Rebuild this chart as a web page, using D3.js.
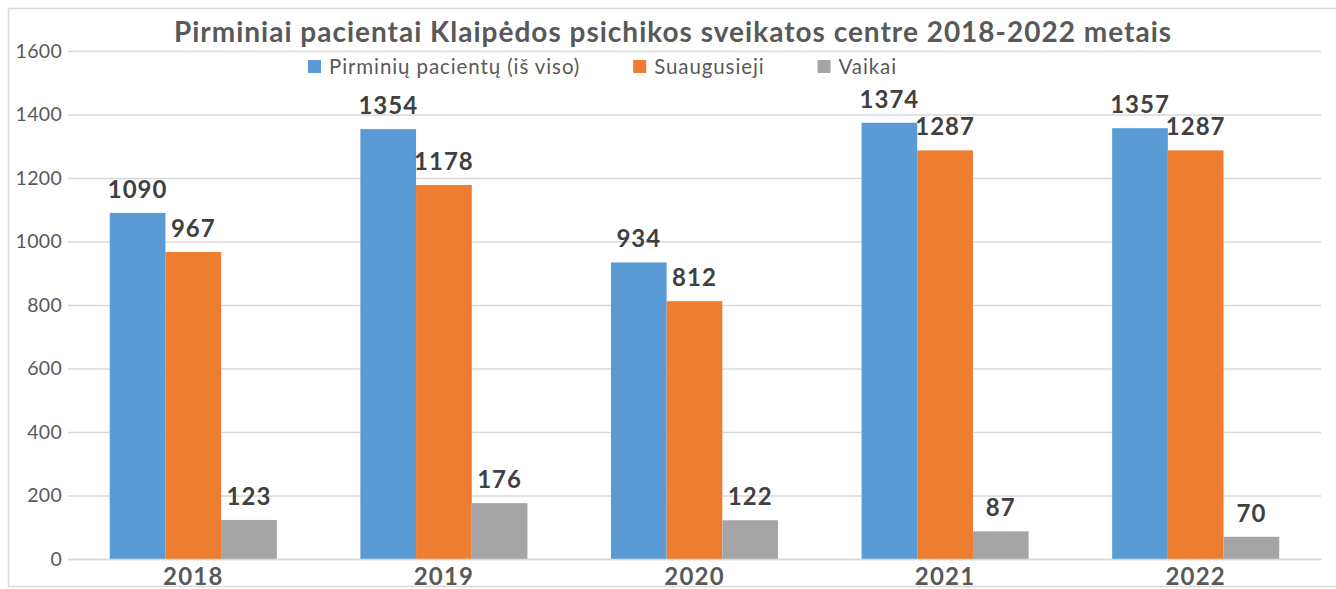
<!DOCTYPE html>
<html>
<head>
<meta charset="utf-8">
<script src="https://cdn.jsdelivr.net/npm/d3@7"></script>
<style>
  body { margin: 0; background: #fff; }
  text { font-family: Lato, "Open Sans", sans-serif; }
</style>
</head>
<body>
<script>
const years = ["2018", "2019", "2020", "2021", "2022"];
const seriesNames = ["Pirminių pacientų (iš viso)", "Suaugusieji", "Vaikai"];
const totalPatients = [1090, 1354, 934, 1374, 1357];
const adults = [967, 1178, 812, 1287, 1287];
const children = [123, 176, 122, 87, 70];
const yTicks = [0, 200, 400, 600, 800, 1000, 1200, 1400, 1600];
const colors = ["#5b9bd5", "#ed7d31", "#a5a5a5"];

const seriesValues = [totalPatients, adults, children];
const data = years.map((y, i) => ({
  year: y,
  values: seriesValues.map((s, k) => ({ key: k, value: s[i] }))
}));

const width = 1336, height = 589;
const plot = { left: 68, right: 1321, top: 51, bottom: 559 };

const svg = d3.select("body").append("svg")
  .attr("width", width)
  .attr("height", height);

// outer frame
svg.append("rect")
  .attr("x", 8.5).attr("y", 8.5)
  .attr("width", 1340).attr("height", 578)
  .attr("fill", "none")
  .attr("stroke", "#d9d9d9")
  .attr("stroke-width", 1.5);

const xScale = d3.scaleBand()
  .domain(years)
  .range([plot.left, plot.right]);

const xInner = d3.scaleBand()
  .domain([0, 1, 2])
  .range([0, xScale.bandwidth() / 1.5]);

const yScale = d3.scaleLinear()
  .domain([0, 1600])
  .range([plot.bottom, plot.top]);

// gridlines + y labels
const yAxis = d3.axisLeft(yScale)
  .tickValues(yTicks)
  .tickFormat(d3.format("d"))
  .tickSize(-(plot.right - plot.left))
  .tickPadding(6);

const yG = svg.append("g")
  .attr("transform", `translate(${plot.left},0)`)
  .call(yAxis);
yG.select(".domain").remove();
yG.selectAll(".tick line")
  .attr("stroke", "#d9d9d9")
  .attr("stroke-width", 1.5);
yG.selectAll(".tick text")
  .attr("fill", "#595959")
  .style("font-size", "19.5px")
  .style("letter-spacing", "0.3px");

// bars
const groups = svg.selectAll(".group")
  .data(data)
  .enter()
  .append("g")
  .attr("class", "group")
  .attr("transform", d => `translate(${xScale(d.year) + (xScale.bandwidth() - xInner.range()[1]) / 2},0)`);

groups.selectAll("rect")
  .data(d => d.values)
  .enter()
  .append("rect")
  .attr("x", d => xInner(d.key))
  .attr("y", d => yScale(d.value))
  .attr("width", xInner.bandwidth())
  .attr("height", d => yScale(0) - yScale(d.value))
  .attr("fill", d => colors[d.key]);

groups.selectAll(".lbl")
  .data(d => d.values)
  .enter()
  .append("text")
  .attr("class", "lbl")
  .attr("x", d => xInner(d.key) + xInner.bandwidth() / 2)
  .attr("y", d => yScale(d.value) - 15)
  .attr("text-anchor", "middle")
  .attr("fill", "#404040")
  .style("font-size", "24px")
  .style("font-weight", "bold")
  .style("letter-spacing", "1px")
  .text(d => d.value);

// x labels
const xAxis = d3.axisBottom(xScale).tickSize(0).tickPadding(9);
const xG = svg.append("g")
  .attr("transform", `translate(0,${plot.bottom})`)
  .call(xAxis);
xG.select(".domain")
  .attr("stroke", "#d9d9d9")
  .attr("stroke-width", 1.5);
xG.selectAll(".tick text")
  .attr("fill", "#595959")
  .style("font-size", "24px")
  .style("font-weight", "bold")
  .style("letter-spacing", "1.2px");

// title
svg.append("text")
  .attr("x", 673)
  .attr("y", 42)
  .attr("text-anchor", "middle")
  .attr("fill", "#595959")
  .style("font-size", "28px")
  .style("font-weight", "bold")
  .style("letter-spacing", "1px")
  .text("Pirminiai pacientai Klaipėdos psichikos sveikatos centre 2018-2022 metais");

// legend
const legend = svg.append("g");
let lx = 308;
seriesNames.forEach((name, i) => {
  legend.append("rect")
    .attr("x", lx).attr("y", 60)
    .attr("width", 13).attr("height", 13)
    .attr("fill", colors[i]);
  const t = legend.append("text")
    .attr("x", lx + 21)
    .attr("y", 74)
    .attr("fill", "#595959")
    .style("font-size", "20.5px")
    .style("letter-spacing", "0.9px")
    .text(name);
  lx += 21 + t.node().getComputedTextLength() + 53;
});
</script>
</body>
</html>
